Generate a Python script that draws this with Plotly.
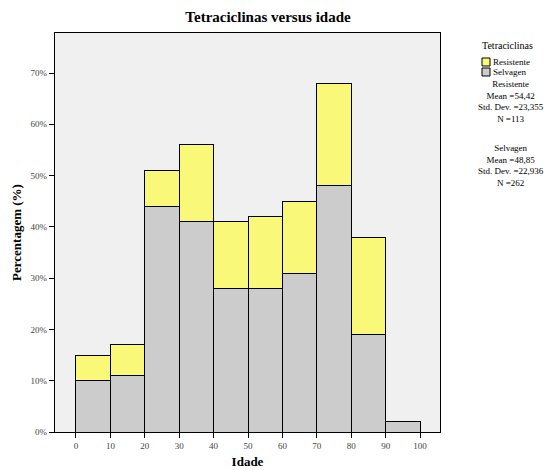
import plotly.graph_objects as go

bin_start = [0, 10, 20, 30, 40, 50, 60, 70, 80, 90]
bin_width = 10
selvagen = [10, 11, 44, 41, 28, 28, 31, 48, 19, 2]
resistente = [5, 6, 7, 15, 13, 14, 14, 20, 19, 0]
x_ticks = [0, 10, 20, 30, 40, 50, 60, 70, 80, 90, 100]
y_ticks = [0, 10, 20, 30, 40, 50, 60, 70]
y_tick_labels = [f"{v}%" for v in y_ticks]
series_names = ["Resistente", "Selvagen"]
series_colors = ["#FAF878", "#CCCCCC"]
legend_title = "Tetraciclinas"
stats_resistente = "Resistente<br>Mean =54,42<br>Std. Dev. =23,355<br>N =113"
stats_selvagen = "Selvagen<br>Mean =48,85<br>Std. Dev. =22,936<br>N =262"

centers = [b + bin_width / 2 for b in bin_start]
FONT = "Liberation Serif"
W, H = 545, 470
L, R, T, B = 55, 105, 33, 38
PW, PH = W - L - R, H - T - B

def px(x):
    return (x - L) / PW

def py(y):
    return 1 - (y - T) / PH

fig = go.Figure()
fig.add_trace(go.Bar(x=centers, y=selvagen, width=bin_width, name="Selvagen",
                     showlegend=False, hoverinfo="skip",
                     marker=dict(color=series_colors[1], line=dict(color="black", width=1))))
fig.add_trace(go.Bar(x=centers, y=resistente, width=bin_width, name="Resistente",
                     showlegend=False, hoverinfo="skip",
                     marker=dict(color=series_colors[0], line=dict(color="black", width=1))))

fig.update_layout(
    barmode="stack",
    width=W, height=H,
    margin=dict(l=L, r=R, t=T, b=B, autoexpand=False),
    paper_bgcolor="white",
    plot_bgcolor="#F0F0F0",
    font=dict(family=FONT, color="black", size=10),
    title=dict(text="<b>Tetraciclinas versus idade</b>", x=268 / W, xanchor="center",
               y=1 - 17 / H, yanchor="middle", font=dict(size=15, family=FONT)),
    xaxis=dict(range=[-6.1, 105.8], tickvals=x_ticks, ticks="outside", ticklen=5,
               tickcolor="black", showline=True, linecolor="black", linewidth=1.2,
               mirror=True, showgrid=False, zeroline=False, automargin=False,
               tickfont=dict(size=9, color="#444"),
               title=dict(text="<b>Idade</b>", font=dict(size=13), standoff=6)),
    yaxis=dict(range=[0, 77.8], tickvals=y_ticks, ticktext=y_tick_labels,
               ticks="outside", ticklen=5, tickcolor="black", showline=True,
               linecolor="black", linewidth=1.2, mirror=True, showgrid=False,
               zeroline=False, automargin=False,
               tickfont=dict(size=9, color="#444"),
               title=dict(text="<b>Percentagem (%)</b>", font=dict(size=13), standoff=6)),
    showlegend=False,
)

# manual legend (outside plot area)
fig.add_annotation(text=legend_title, xref="paper", yref="paper", x=px(507), y=py(45),
                   xanchor="center", yanchor="middle", showarrow=False,
                   font=dict(size=10, family=FONT))
for i, (name, col) in enumerate(zip(series_names, series_colors)):
    y0 = 58 + i * 10
    fig.add_shape(type="rect", xref="paper", yref="paper",
                  x0=px(482), x1=px(490), y0=py(y0), y1=py(y0 + 8),
                  fillcolor=col, line=dict(color="black", width=1))
    fig.add_annotation(text=name, xref="paper", yref="paper", x=px(491), y=py(y0 + 4),
                       xanchor="left", yanchor="middle", showarrow=False,
                       font=dict(size=9, family=FONT))

for txt, ytop in [(stats_resistente, 77), (stats_selvagen, 141)]:
    fig.add_annotation(text=txt, xref="paper", yref="paper", x=px(511), y=py(ytop),
                       xanchor="center", yanchor="top", showarrow=False, align="center",
                       font=dict(size=9, family=FONT))

fig.write_html("out.html", config={"displayModeBar": False},
               post_script="document.body.style.margin='0';")
